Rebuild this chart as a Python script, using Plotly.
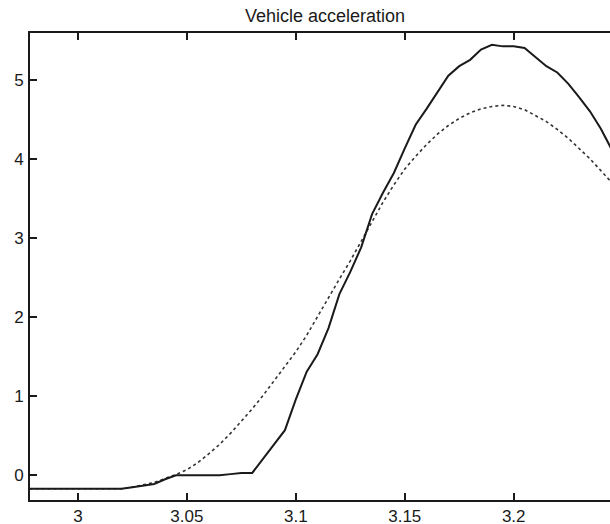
import numpy as np
import plotly.graph_objects as go

# time axis (s), 0.005 s steps
t = [2.975, 2.980, 2.985, 2.990, 2.995, 3.000, 3.005, 3.010, 3.015, 3.020,
     3.025, 3.030, 3.035, 3.040, 3.045, 3.050, 3.055, 3.060, 3.065, 3.070,
     3.075, 3.080, 3.085, 3.090, 3.095, 3.100, 3.105, 3.110, 3.115, 3.120,
     3.125, 3.130, 3.135, 3.140, 3.145, 3.150, 3.155, 3.160, 3.165, 3.170,
     3.175, 3.180, 3.185, 3.190, 3.195, 3.200, 3.205, 3.210, 3.215, 3.220,
     3.225, 3.230, 3.235, 3.240, 3.245, 3.250]

accel_measured = [-0.17, -0.17, -0.17, -0.17, -0.17, -0.17, -0.17, -0.17, -0.17, -0.17,
                  -0.15, -0.13, -0.11, -0.05, 0.00, 0.00, 0.00, 0.00, 0.00, 0.015,
                  0.03, 0.03, 0.21, 0.39, 0.57, 0.96, 1.31, 1.53, 1.86, 2.29,
                  2.57, 2.88, 3.30, 3.57, 3.82, 4.13, 4.43, 4.63, 4.84, 5.05,
                  5.17, 5.25, 5.38, 5.44, 5.42, 5.42, 5.40, 5.28, 5.17, 5.09,
                  4.95, 4.78, 4.60, 4.38, 4.12, 3.85]

accel_model = [-0.17, -0.17, -0.17, -0.17, -0.17, -0.17, -0.17, -0.17, -0.17, -0.17,
               -0.15, -0.12, -0.09, -0.04, 0.01, 0.07, 0.16, 0.27, 0.39, 0.53,
               0.68, 0.84, 1.01, 1.19, 1.37, 1.56, 1.77, 2.01, 2.25, 2.48,
               2.71, 2.96, 3.21, 3.45, 3.67, 3.87, 4.03, 4.18, 4.31, 4.42,
               4.51, 4.58, 4.63, 4.66, 4.675, 4.66, 4.62, 4.55, 4.47, 4.37,
               4.26, 4.13, 4.00, 3.85, 3.70, 3.55]

x_ticks = [3.0, 3.05, 3.1, 3.15, 3.2]
x_tick_labels = ["3", "3.05", "3.1", "3.15", "3.2"]
y_ticks = [0, 1, 2, 3, 4, 5]
y_tick_labels = ["0", "1", "2", "3", "4", "5"]

title_text = "Vehicle acceleration"

W, H = 610, 524
font_family = "Liberation Sans, Arial, sans-serif"
ink = "#1a1a1a"

fig = go.Figure()
fig.add_trace(go.Scatter(x=t, y=accel_model, mode="lines",
                         line=dict(color="#333333", width=1.6, dash="dot"),
                         showlegend=False))
fig.add_trace(go.Scatter(x=t, y=accel_measured, mode="lines",
                         line=dict(color=ink, width=2),
                         showlegend=False))

axis_common = dict(showgrid=False, zeroline=False, showline=True,
                   linecolor=ink, linewidth=2, ticks="inside", ticklen=7,
                   tickwidth=2, tickcolor=ink,
                   tickfont=dict(family=font_family, size=17, color=ink))

fig.update_layout(
    width=W, height=H,
    margin=dict(l=30, r=0, t=33, b=24, pad=0, autoexpand=False),
    paper_bgcolor="white", plot_bgcolor="white",
    title=dict(text=title_text, x=325 / W, xref="container", xanchor="center",
               y=1 - 16 / H, yref="container", yanchor="middle",
               font=dict(family=font_family, size=18, color=ink)),
    xaxis=dict(range=[2.978, 3.2442], tickvals=x_ticks, ticktext=x_tick_labels,
               mirror="ticks", ticklabelstandoff=0, **axis_common),
    yaxis=dict(range=[-0.312, 5.589], tickvals=y_ticks, ticktext=y_tick_labels,
               mirror=False, ticklabelstandoff=1, **axis_common),
)

fig.write_html("out.html")
